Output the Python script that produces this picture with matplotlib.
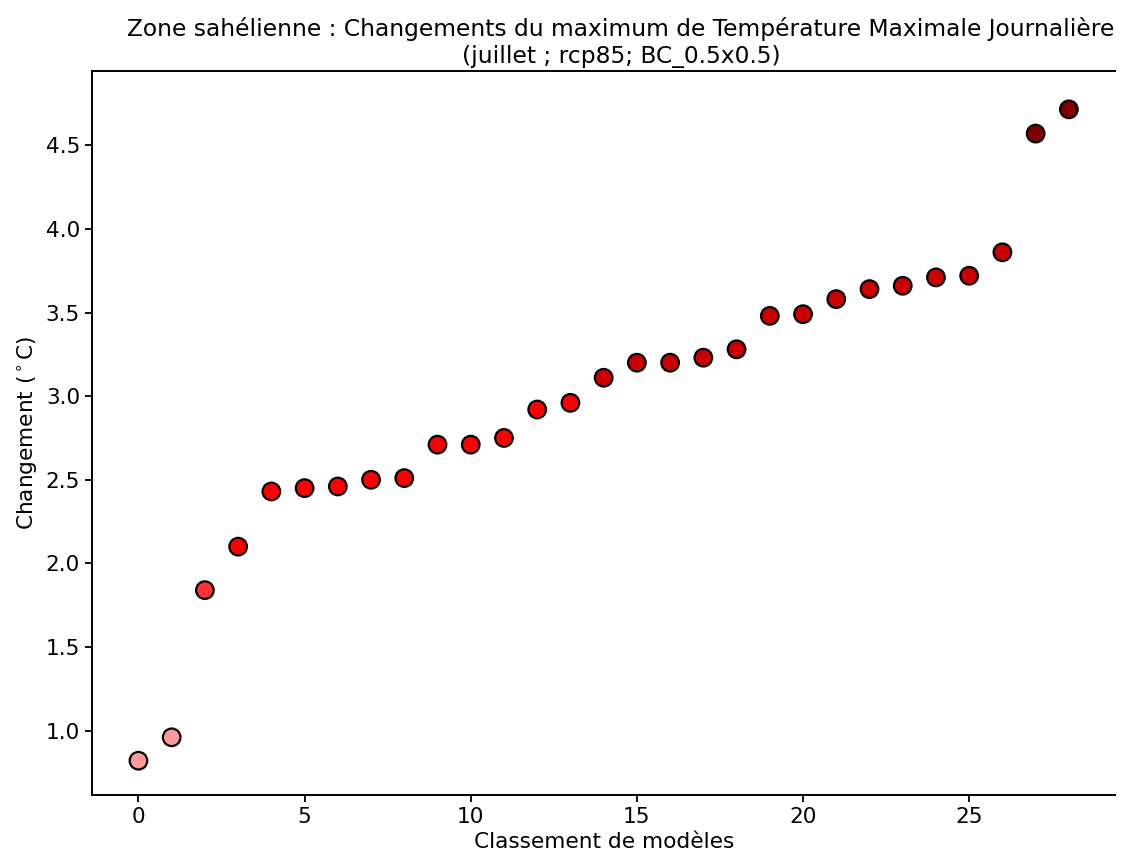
import numpy as np
import matplotlib
matplotlib.use("Agg")
import matplotlib.pyplot as plt
from matplotlib.colors import ListedColormap, BoundaryNorm

ranks = list(range(29))
changes = [0.82, 0.96, 1.84, 2.10, 2.43, 2.45, 2.46, 2.50, 2.51, 2.71, 2.71, 2.75,
           2.92, 2.96, 3.11, 3.20, 3.20, 3.23, 3.28, 3.48, 3.49, 3.58, 3.64, 3.66,
           3.71, 3.72, 3.86, 4.57, 4.715]

bounds = [0, 1, 2, 3, 4, 10]
bin_colors = ["#ff9999", "#ff3333", "#ff0000", "#cc0000", "#800000"]

title = "Zone sahélienne : Changements du maximum de Température Maximale Journalière\n(juillet ; rcp85; BC_0.5x0.5)"
xlabel = "Classement de modèles"
ylabel = r"Changement ($^\circ$C)"

fig = plt.figure(figsize=(11.21, 8.59), dpi=100)
ax = fig.add_axes([0.082, 0.0745, 0.913, 0.843])

cmap = ListedColormap(bin_colors)
norm = BoundaryNorm(bounds, cmap.N)
ax.scatter(ranks, changes, c=changes, cmap=cmap, norm=norm, s=160,
           edgecolors="black", linewidths=1.6, zorder=3)

ax.set_ylim(0.615, 4.945)
ax.set_title(title, fontsize=16.8, x=0.517)
ax.set_xlabel(xlabel, fontsize=15.6)
ax.set_ylabel(ylabel, fontsize=15.6)
ax.tick_params(labelsize=15.6, length=5, width=1.3)
ax.spines["right"].set_visible(False)
for s in ["left", "bottom", "top"]:
    ax.spines[s].set_linewidth(1.4)

fig.savefig("out.png", dpi=100)
